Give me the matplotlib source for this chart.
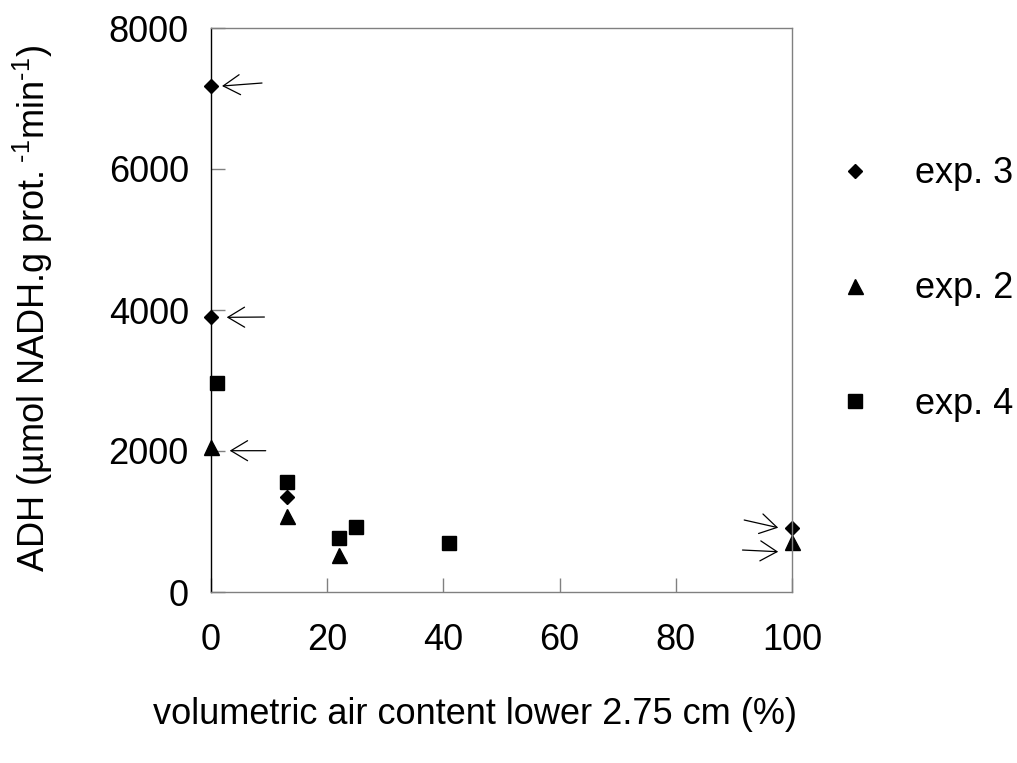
import matplotlib
matplotlib.use("Agg")
import matplotlib.pyplot as plt
from matplotlib.transforms import offset_copy

plt.rcParams['font.family'] = ['Liberation Sans', 'DejaVu Sans']
plt.rcParams['mathtext.fontset'] = 'custom'
plt.rcParams['mathtext.rm'] = 'Liberation Sans'

# data
exp3_x = [0, 0, 13, 100]
exp3_y = [7177, 3896, 1348, 912]
exp2_x = [0, 13, 22, 100]
exp2_y = [2061, 1082, 525, 713]
exp4_x = [1, 13, 22, 25, 41]
exp4_y = [2969, 1556, 766, 922, 691]

xticks = [0, 20, 40, 60, 80, 100]
yticks = [0, 2000, 4000, 6000, 8000]

FS = 26

fig = plt.figure(figsize=(10.17, 7.63), dpi=100)
ax = fig.add_axes([211/1017, 1-592/763, 581/1017, 564/763])

ax.plot(exp3_x, exp3_y, 'D', color='black', ms=7.6, label='exp. 3', clip_on=False)
ax.plot(exp2_x, exp2_y, '^', color='black', ms=10.8, label='exp. 2', clip_on=False)
ax.plot(exp4_x, exp4_y, 's', color='black', ms=10.6, label='exp. 4', clip_on=False)

ax.set_xlim(0, 100)
ax.set_ylim(0, 8000)
ax.set_xticks(xticks)
ax.set_yticks(yticks)
ax.tick_params(direction='in', length=10, width=1, color='#808080', labelsize=FS)
ax.tick_params(axis='y', pad=16)
ax.tick_params(axis='x', pad=22)
for s in ['top', 'right', 'bottom']:
    ax.spines[s].set_color('#808080')
ax.spines['left'].set_color('black')
for s in ax.spines.values():
    s.set_linewidth(1)

# arrows pointing to the points (pixel offsets: tip from point, tail from tip)
def arrow(x, y, tip, tail):
    tr = offset_copy(ax.transData, fig=fig, x=tip[0], y=tip[1], units='dots')
    ax.annotate('', xy=(x, y), xycoords=tr,
                xytext=(tail[0]*0.72, tail[1]*0.72), textcoords='offset points',
                arrowprops=dict(arrowstyle='->,head_length=1.2,head_width=0.72',
                                mutation_scale=10, lw=0.9, color='black',
                                shrinkA=0, shrinkB=0))

arrow(exp3_x[0], exp3_y[0], (11, 0), (40, 3))
arrow(exp3_x[1], exp3_y[1], (15.7, 0), (37.7, 0.3))
arrow(exp2_x[0], exp2_y[0], (18.7, -4), (36, 0))
arrow(exp3_x[3], exp3_y[3], (-13.8, 0), (-34, 7.7))
arrow(exp2_x[3], exp2_y[3], (-13.8, -10), (-35.7, 1.7))

ax.set_xlabel('volumetric air content lower 2.75 cm (%)', fontsize=FS)
ax.xaxis.set_label_coords((475 - 211) / 581, -(715 - 592) / 564)
ax.xaxis.label.set_va('center')
ax.set_ylabel(r'ADH (µmol NADH.g prot.$^{\text{ -1}}$min$^{\text{-1}}$)', fontsize=FS)
ax.yaxis.set_label_coords(-(211 - 33) / 581, (592 - 309) / 564)
ax.yaxis.label.set_va('center')

fig.legend(loc='center left', bbox_to_anchor=(837/1017, 1-289/763), frameon=False,
           fontsize=FS, handlelength=1, handletextpad=1.15, labelspacing=2.22,
           borderpad=0, borderaxespad=0)

fig.savefig('out.png', dpi=100)
